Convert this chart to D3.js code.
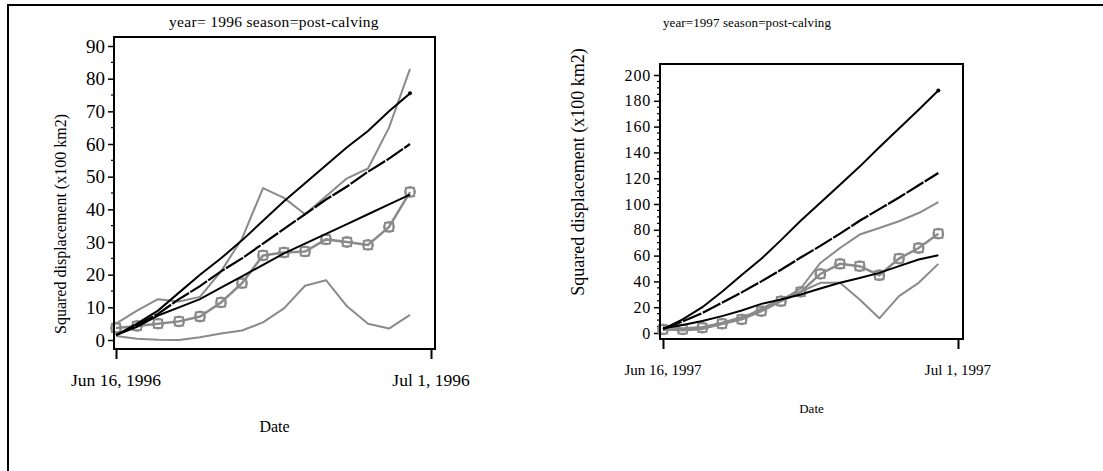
<!DOCTYPE html>
<html>
<head>
<meta charset="utf-8">
<script src="https://cdn.jsdelivr.net/npm/d3@7"></script>
<style>
  body { margin: 0; background: #fff; }
  svg { display: block; }
  text { font-family: "Liberation Serif", "Times New Roman", serif; fill: #000; }
</style>
</head>
<body>
<svg id="chart" width="1103" height="471"></svg>
<script>
// ---- data ----
const dates1996 = ["1996-06-16","1996-06-17","1996-06-18","1996-06-19","1996-06-20","1996-06-21","1996-06-22","1996-06-23","1996-06-24","1996-06-25","1996-06-26","1996-06-27","1996-06-28","1996-06-29","1996-06-30"];
const dates1997 = ["1997-06-16","1997-06-17","1997-06-18","1997-06-19","1997-06-20","1997-06-21","1997-06-22","1997-06-23","1997-06-24","1997-06-25","1997-06-26","1997-06-27","1997-06-28","1997-06-29","1997-06-30"];
const xTicks1996 = ["1996-06-16","1996-07-01"];
const xTicks1997 = ["1997-06-16","1997-07-01"];
const yTicks1996 = [0,10,20,30,40,50,60,70,80,90];
const yTicks1997 = [0,20,40,60,80,100,120,140,160,180,200];

// squared displacement (x100 km2), 1996
const upper1996    = [1.5,5,9,14.5,20,25,30.5,36.5,42.5,48,53.5,59,64,70,75.5];
const dashed1996   = [1.5,4.5,8,12.5,16.5,21,25,29.5,34,38.5,43,47,51.5,55.5,60];
const lower1996    = [1.5,4,7.5,10,12.5,16,19.5,23,26.5,29.5,32.5,35.5,38.5,41.5,44.5];
const observed1996 = [3.7,4.3,5.0,5.7,7.2,11.5,17.4,25.9,26.8,27.1,30.8,30.0,29.1,34.6,45.3];
const greyHigh1996 = [5,9,12.5,11.8,13.2,21,31,46.5,43.5,38.5,44,49.5,52.5,65,83];
const greyLow1996  = [1.2,0.4,0.1,0,0.85,2,2.9,5.4,9.7,16.6,18.3,10.3,5,3.5,7.7];

// squared displacement (x100 km2), 1997
const upper1997    = [3,10.5,20,32,45,57.5,72,87,101,115,129,144,158.5,173,188];
const dashed1997   = [3,9,15.5,23.5,31.5,40,49,58.5,67.5,77,87,96,105,114.5,124];
const lower1997    = [3.6,6.2,9.3,13.1,17.5,22.6,25.9,29.9,34.5,38.9,42.7,46.6,51.8,57,60.3];
const observed1997 = [2.8,2.8,4.1,7.2,10.6,17,24.7,31.9,45.8,53.6,51.8,44.8,57.7,65.9,77];
const greyHigh1997 = [4.6,3.6,4.6,8,12.4,17.5,25.3,34.5,54.3,65.9,76.3,81.4,86.6,93,101.5];
const greyLow1997  = [3,2,3,7,11,19,26,32,38.9,38.9,26,11.4,28.6,38.9,53.6];

const parse = d3.timeParse("%Y-%m-%d");
const fmt = d3.timeFormat("%b %-d, %Y");
const GREY = "#8a8a8a";

const panels = [
  {
    title: "year= 1996 season=post-calving",
    dates: dates1996, xTicks: xTicks1996, yTicks: yTicks1996, yMinorStep: 5,
    series: { upper: upper1996, dashed: dashed1996, lower: lower1996,
              observed: observed1996, greyHigh: greyHigh1996, greyLow: greyLow1996 },
    box: { x0: 114, x1: 435, y0: 37, y1: 349 },
    xRange: [116, 431], yDomain: [0, 90], yRange: [340, 46],
    titleX: 274, titleY: 27, titleSize: 15.5, titleSpacing: 0.3,
    tickSize: 19, tickSpacing: 0, xTickSize: 17.5, xTickY: 386,
    dateY: 432, dateSize: 16,
    yLabelX: 66, yLabelY: 224, yLabelSize: 16
  },
  {
    title: "year=1997 season=post-calving",
    dates: dates1997, xTicks: xTicks1997, yTicks: yTicks1997, yMinorStep: 5,
    series: { upper: upper1997, dashed: dashed1997, lower: lower1997,
              observed: observed1997, greyHigh: greyHigh1997, greyLow: greyLow1997 },
    box: { x0: 660, x1: 963, y0: 64, y1: 339 },
    xRange: [663, 958], yDomain: [0, 200], yRange: [333, 75],
    titleX: 747, titleY: 27, titleSize: 13, titleSpacing: 0.1,
    tickSize: 16, tickSpacing: 0.8, xTickSize: 15, xTickY: 375,
    dateY: 413, dateSize: 13,
    yLabelX: 584, yLabelY: 172, yLabelSize: 18
  }
];

const svg = d3.select("#chart");

// outer frame
svg.append("rect")
  .attr("x", 8).attr("y", 5).attr("width", 1110).attr("height", 480)
  .attr("fill", "none").attr("stroke", "#000").attr("stroke-width", 2);

panels.forEach(p => {
  const g = svg.append("g");
  const dts = p.dates.map(parse);
  const tickDates = p.xTicks.map(parse);
  const x = d3.scaleTime().domain(tickDates).range(p.xRange);
  const y = d3.scaleLinear().domain(p.yDomain).range(p.yRange);
  const b = p.box;

  // title
  g.append("text").attr("x", p.titleX).attr("y", p.titleY)
    .attr("text-anchor", "middle").style("font-size", p.titleSize + "px")
    .style("letter-spacing", p.titleSpacing + "px")
    .text(p.title);

  // y axis ticks (major + minor) on the left edge of the frame
  const yAxis = d3.axisLeft(y).tickValues(p.yTicks).tickSize(6).tickPadding(3).tickFormat(d3.format("d"));
  const yAx = g.append("g").attr("transform", `translate(${b.x0},0)`).call(yAxis);
  yAx.select(".domain").remove();
  yAx.selectAll("line").attr("stroke", "#000").attr("stroke-width", 1.5);
  yAx.selectAll("text").style("font-size", p.tickSize + "px")
    .style("letter-spacing", p.tickSpacing + "px")
    .style("font-family", '"Liberation Serif","Times New Roman",serif');
  const minorVals = d3.range(p.yDomain[0], p.yDomain[1] + 0.001, p.yMinorStep)
    .filter(v => !p.yTicks.includes(v));
  g.append("g").selectAll("line").data(minorVals).join("line")
    .attr("x1", b.x0 - 3).attr("x2", b.x0)
    .attr("y1", d => y(d)).attr("y2", d => y(d))
    .attr("stroke", "#000").attr("stroke-width", 1.2);

  // x axis ticks hanging below the frame
  const xAxis = d3.axisBottom(x).tickValues(tickDates).tickSize(10).tickPadding(0).tickFormat(() => "");
  const xAx = g.append("g").attr("transform", `translate(0,${b.y1})`).call(xAxis);
  xAx.select(".domain").remove();
  xAx.selectAll("line").attr("stroke", "#000").attr("stroke-width", 2);
  g.append("g").selectAll("text").data(tickDates).join("text")
    .attr("x", d => x(d)).attr("y", p.xTickY)
    .attr("text-anchor", "middle").style("font-size", p.xTickSize + "px")
    .text(d => fmt(d));

  // axis titles
  g.append("text").attr("x", (b.x0 + b.x1) / 2).attr("y", p.dateY)
    .attr("text-anchor", "middle").style("font-size", p.dateSize + "px").text("Date");
  g.append("text")
    .attr("transform", `translate(${p.yLabelX},${p.yLabelY}) rotate(-90)`)
    .attr("text-anchor", "middle").style("font-size", p.yLabelSize + "px")
    .text("Squared displacement (x100 km2)");

  const line = d3.line().x((d, i) => x(dts[i])).y(d => y(d));
  const s = p.series;
  const plot = g.append("g");

  // grey envelope lines
  [s.greyLow, s.greyHigh].forEach(vals => {
    plot.append("path").datum(vals).attr("d", line)
      .attr("fill", "none").attr("stroke", GREY).attr("stroke-width", 2)
      .attr("stroke-linejoin", "round");
  });

  // observed series with hollow markers
  plot.append("path").datum(s.observed).attr("d", line)
    .attr("fill", "none").attr("stroke", GREY).attr("stroke-width", 2.5);
  plot.append("g").selectAll("circle").data(s.observed).join("circle")
    .attr("cx", (d, i) => x(dts[i])).attr("cy", d => y(d)).attr("r", 5)
    .attr("fill", "none").attr("stroke", GREY).attr("stroke-width", 1.8);
  plot.append("g").selectAll("rect").data(s.observed).join("rect")
    .attr("x", (d, i) => x(dts[i]) - 4.2).attr("y", d => y(d) - 4.2)
    .attr("width", 8.4).attr("height", 8.4)
    .attr("fill", "none").attr("stroke", GREY).attr("stroke-width", 1.8);

  // model curves
  plot.append("path").datum(s.lower).attr("d", line)
    .attr("fill", "none").attr("stroke", "#000").attr("stroke-width", 2);
  plot.append("path").datum(s.dashed).attr("d", line)
    .attr("fill", "none").attr("stroke", "#000").attr("stroke-width", 2.2)
    .attr("stroke-dasharray", "20 1.5");
  plot.append("path").datum(s.upper).attr("d", line)
    .attr("fill", "none").attr("stroke", "#000").attr("stroke-width", 2);
  plot.append("circle")
    .attr("cx", x(dts[dts.length - 1])).attr("cy", y(s.upper[s.upper.length - 1]))
    .attr("r", 2).attr("fill", "#000");

  // frame
  g.append("rect").attr("x", b.x0).attr("y", b.y0)
    .attr("width", b.x1 - b.x0).attr("height", b.y1 - b.y0)
    .attr("fill", "none").attr("stroke", "#000").attr("stroke-width", 2);
});
</script>
</body>
</html>
